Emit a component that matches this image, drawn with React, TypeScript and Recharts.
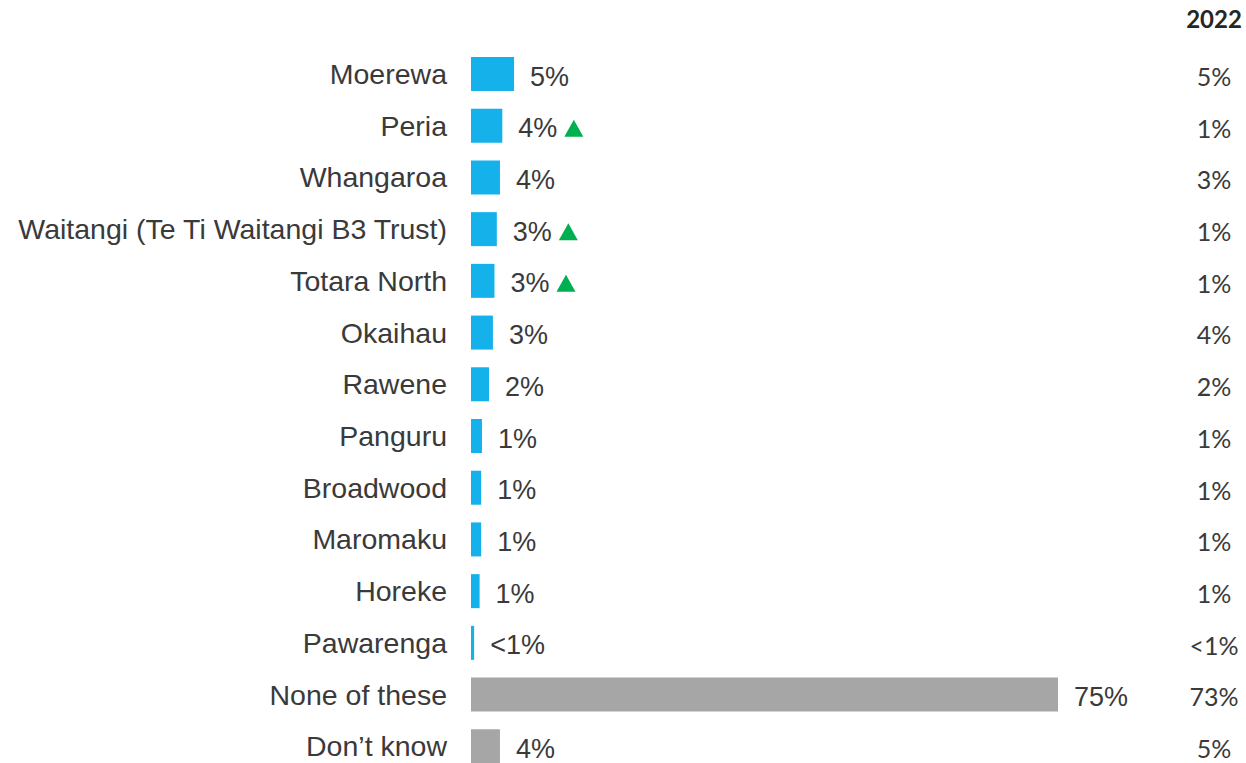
import React from "react";
import { BarChart, Bar, XAxis, YAxis, Cell, LabelList } from "recharts";

const categories = [
  "Moerewa",
  "Peria",
  "Whangaroa",
  "Waitangi (Te Ti Waitangi B3 Trust)",
  "Totara North",
  "Okaihau",
  "Rawene",
  "Panguru",
  "Broadwood",
  "Maromaku",
  "Horeke",
  "Pawarenga",
  "None of these",
  "Don’t know",
];
const values2023 = [5.5, 4.0, 3.7, 3.3, 3.0, 2.8, 2.3, 1.4, 1.3, 1.3, 1.1, 0.4, 75, 3.7];
const valueLabels = ["5%", "4%", "4%", "3%", "3%", "3%", "2%", "1%", "1%", "1%", "1%", "<1%", "75%", "4%"];
const values2022 = ["5%", "1%", "3%", "1%", "1%", "4%", "2%", "1%", "1%", "1%", "1%", "<1%", "73%", "5%"];
const sigUp = [false, true, false, true, true, false, false, false, false, false, false, false, false, false];
const groups = ["area", "area", "area", "area", "area", "area", "area", "area", "area", "area", "area", "area", "other", "other"];
const priorYearLabel = "2022";

const BLUE = "#14B1EB";
const GRAY = "#A6A6A6";
const GREEN = "#00B050";
const TEXT = "#3a3a3a";
const ARIAL = "'Liberation Sans', Arial, sans-serif";
const CAL = "Lato, 'Open Sans', sans-serif";

const data = categories.map((name, i) => ({
  name,
  value: values2023[i],
  label: valueLabels[i],
  prior: values2022[i],
  up: sigUp[i],
  group: groups[i],
}));

const ValueLabel = (props: any) => {
  const { x, y, width, height, index } = props;
  const d = data[index];
  const lx = x + width + 16;
  const cy = y + height / 2 + 2;
  const textW = d.label === "<1%" ? 57 : d.label.length === 3 ? 54 : 39;
  const tx = lx + textW + 7;
  return (
    <g>
      <text x={lx} y={cy} dy="0.355em" textAnchor="start" fontFamily={ARIAL} fontSize={27} fill={TEXT}>
        {d.label}
      </text>
      {d.up ? (
        <polygon
          points={`${tx},${cy + 9} ${tx + 19},${cy + 9} ${tx + 9.5},${cy - 8}`}
          fill={GREEN}
        />
      ) : null}
    </g>
  );
};

const PriorLabel = (props: any) => {
  const { y, height, index } = props;
  const d = data[index];
  const cy = y + height / 2 + 3;
  return (
    <text x={1214} y={cy} dy="0.355em" textAnchor="middle" fontFamily={CAL} fontSize={25} fill={TEXT}>
      {d.prior}
    </text>
  );
};

export default function App() {
  return (
    <div style={{ position: "absolute", left: 0, top: 0, width: 1246, height: 763, overflow: "hidden", background: "#fff" }}>
      <div
        style={{
          position: "absolute",
          left: 1164,
          width: 100,
          top: 4,
          textAlign: "center",
          fontFamily: CAL,
          fontWeight: 700,
          fontSize: 24,
          color: "#262626",
          lineHeight: "30px",
        }}
      >
        {priorYearLabel}
      </div>
      <BarChart
        width={1246}
        height={780}
        data={data}
        layout="vertical"
        margin={{ top: 48, right: 188, bottom: 8, left: 0 }}
      >
        <XAxis type="number" domain={[0, 75]} hide allowDataOverflow />
        <YAxis
          type="category"
          dataKey="name"
          width={471}
          axisLine={false}
          tickLine={false}
          tickSize={0}
          tickMargin={24}
          interval={0}
          tick={{ fontFamily: ARIAL, fontSize: 28.5, fill: TEXT }}
        />
        <Bar dataKey="value" barSize={34} isAnimationActive={false}>
          {data.map((d, i) => (
            <Cell key={i} fill={d.group === "area" ? BLUE : GRAY} />
          ))}
          <LabelList dataKey="label" content={ValueLabel} />
          <LabelList dataKey="prior" content={PriorLabel} />
        </Bar>
      </BarChart>
    </div>
  );
}
